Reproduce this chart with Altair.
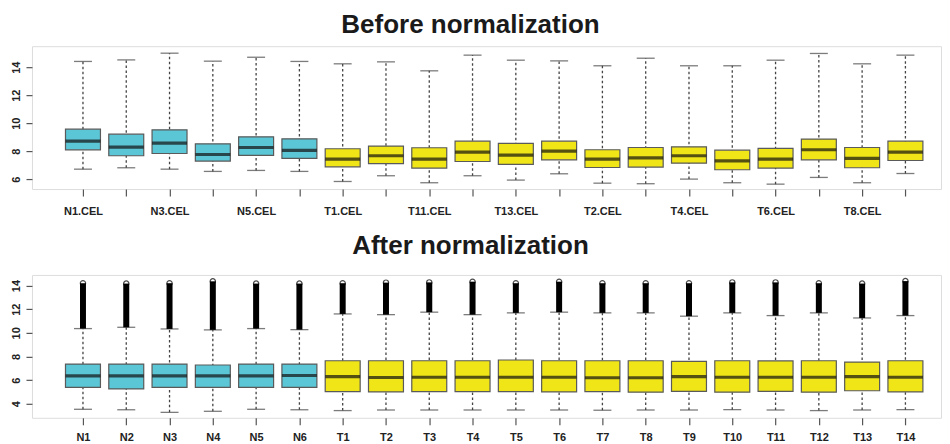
import json
import altair as alt
import pandas as pd

# ---------------- Before normalization ----------------
top_samples = ["N1.CEL", "N2.CEL", "N3.CEL", "N4.CEL", "N5.CEL", "N6.CEL",
               "T1.CEL", "T10.CEL", "T11.CEL", "T12.CEL", "T13.CEL", "T14.CEL",
               "T2.CEL", "T3.CEL", "T4.CEL", "T5.CEL", "T6.CEL", "T7.CEL", "T8.CEL", "T9.CEL"]
top_group = ["N"] * 6 + ["T"] * 14
top_lower = [6.71, 6.81, 6.71, 6.55, 6.62, 6.55, 5.83, 6.24, 5.74, 6.24,
             5.93, 6.38, 5.71, 5.67, 6.00, 5.74, 5.64, 6.12, 5.74, 6.40]
top_q1 = [8.09, 7.67, 7.83, 7.29, 7.69, 7.48, 6.88, 7.10, 6.79, 7.26,
          7.05, 7.38, 6.83, 6.86, 7.14, 6.67, 6.79, 7.38, 6.81, 7.33]
top_median = [8.71, 8.29, 8.57, 7.76, 8.26, 8.05, 7.43, 7.67, 7.43, 7.93,
              7.71, 8.00, 7.43, 7.52, 7.67, 7.31, 7.43, 8.10, 7.48, 7.93]
top_q3 = [9.57, 9.21, 9.52, 8.52, 9.02, 8.88, 8.17, 8.36, 8.24, 8.71,
          8.55, 8.71, 8.10, 8.26, 8.31, 8.07, 8.19, 8.86, 8.26, 8.71]
top_upper = [14.41, 14.52, 15.00, 14.43, 14.71, 14.41, 14.24, 14.38, 13.74, 14.86,
             14.50, 14.45, 14.10, 14.64, 14.10, 14.10, 14.50, 14.98, 14.24, 14.86]
top_labels = ["N1.CEL", "N3.CEL", "N5.CEL", "T1.CEL", "T11.CEL",
              "T13.CEL", "T2.CEL", "T4.CEL", "T6.CEL", "T8.CEL"]
top_yticks = [6, 8, 10, 12, 14]

# ---------------- After normalization ----------------
bot_samples = ["N1", "N2", "N3", "N4", "N5", "N6",
               "T1", "T2", "T3", "T4", "T5", "T6", "T7", "T8", "T9", "T10",
               "T11", "T12", "T13", "T14"]
bot_group = ["N"] * 6 + ["T"] * 14
bot_lower = [3.53, 3.49, 3.27, 3.36, 3.53, 3.49, 3.42, 3.47, 3.47, 3.47,
             3.47, 3.47, 3.45, 3.47, 3.47, 3.50, 3.47, 3.42, 3.47, 3.50]
bot_q1 = [5.39, 5.25, 5.39, 5.39, 5.39, 5.39, 5.02, 5.00, 5.02, 5.02,
          5.02, 5.00, 5.02, 4.98, 5.05, 4.98, 5.05, 4.98, 5.10, 5.00]
bot_median = [6.35, 6.35, 6.35, 6.35, 6.35, 6.39, 6.29, 6.22, 6.24, 6.24,
              6.24, 6.24, 6.20, 6.20, 6.29, 6.24, 6.24, 6.24, 6.29, 6.24]
bot_q3 = [7.36, 7.36, 7.36, 7.28, 7.36, 7.36, 7.64, 7.64, 7.64, 7.64,
          7.70, 7.64, 7.64, 7.64, 7.59, 7.64, 7.62, 7.64, 7.53, 7.64]
bot_upper = [10.36, 10.47, 10.33, 10.25, 10.36, 10.27, 11.60, 11.54, 11.75, 11.54,
             11.69, 11.75, 11.69, 11.69, 11.41, 11.69, 11.46, 11.69, 11.26, 11.46]
bot_outmax = [14.20, 14.17, 14.20, 14.36, 14.17, 14.17, 14.20, 14.25, 14.27, 14.33,
              14.20, 14.33, 14.20, 14.20, 14.20, 14.27, 14.27, 14.20, 14.17, 14.38]
bot_yticks = [4, 6, 8, 10, 12, 14]

COLORS = {"N": "#5BC6D6", "T": "#F0E516"}
PLOT_W = 910
PLOT_H = 143
FONT = "Liberation Sans"


def panel(samples, groups, lower, q1, med, q3, upper, ydomain, yticks,
          xlabels, title, title_offset, xlabel_pad, outmax=None):
    df = pd.DataFrame({"sample": samples, "group": groups, "lower": lower,
                       "q1": q1, "median": med, "q3": q3, "upper": upper})
    if outmax is not None:
        df["outmax"] = outmax

    xscale = alt.Scale(type="point", domain=samples, padding=1.107, align=0.589)
    yscale = alt.Scale(domain=ydomain, nice=False, zero=False)
    label_expr = "indexof(%s, datum.value) >= 0 ? datum.value : ''" % json.dumps(xlabels)
    xaxis = alt.Axis(title=None, labelExpr=label_expr, labelAngle=0, tickSize=7,
                     tickColor="#555", tickWidth=1.2, domain=False, grid=False,
                     labelFont=FONT, labelFontSize=11, labelFontWeight="bold",
                     labelColor="#222", labelPadding=xlabel_pad, labelOverlap=False)
    yaxis = alt.Axis(title=None, values=yticks, labelAngle=270, labelAlign="center",
                     labelBaseline="bottom", tickSize=6, tickColor="#555", tickWidth=1.2,
                     domain=False, grid=False, labelFont=FONT, labelFontSize=11,
                     labelFontWeight="bold", labelColor="#222", labelPadding=4,
                     labelOverlap=False, labelFlush=False)

    base = alt.Chart(df).encode(x=alt.X("sample:N", scale=xscale, axis=xaxis, sort=samples))

    whisker = base.mark_rule(color="#444", strokeWidth=1.3, strokeDash=[2.5, 2.5]).encode(
        y=alt.Y("lower:Q", scale=yscale, axis=yaxis), y2="upper:Q")
    cap_lo = base.mark_tick(color="#444", size=18, thickness=1.3, orient="horizontal").encode(
        y=alt.Y("lower:Q", scale=yscale, axis=yaxis))
    cap_hi = base.mark_tick(color="#444", size=18, thickness=1.3, orient="horizontal").encode(
        y=alt.Y("upper:Q", scale=yscale, axis=yaxis))
    box = base.mark_bar(size=35, stroke="#5a5a5a", strokeWidth=1.2).encode(
        y=alt.Y("q1:Q", scale=yscale, axis=yaxis), y2="q3:Q",
        color=alt.Color("group:N", scale=alt.Scale(domain=list(COLORS.keys()),
                                                     range=list(COLORS.values())),
                        legend=None))
    median = base.mark_tick(color="#111", size=35, thickness=3.2, orient="horizontal").encode(
        y=alt.Y("median:Q", scale=yscale, axis=yaxis))

    layers = [whisker, cap_lo, cap_hi]
    if outmax is not None:
        col = base.mark_rule(color="#000", strokeWidth=6).encode(
            y=alt.Y("upper:Q", scale=yscale, axis=yaxis), y2="outmax:Q")
        circ = base.mark_point(shape="circle", filled=False, color="#000", size=28,
                               strokeWidth=1.2).encode(
            y=alt.Y("outmax:Q", scale=yscale, axis=yaxis))
        layers += [col, circ]
    layers += [box, median]

    return alt.layer(*layers).properties(
        width=PLOT_W, height=PLOT_H,
        title=alt.TitleParams(title, font=FONT, fontSize=26, fontWeight="bold",
                              color="#1a1a1a", anchor="middle", dx=-16,
                              offset=title_offset),
    )


top = panel(top_samples, top_group, top_lower, top_q1, top_median, top_q3, top_upper,
            [5.29, 15.5], top_yticks, top_labels, "Before normalization", 8, 9)
bot = panel(bot_samples, bot_group, bot_lower, bot_q1, bot_median, bot_q3, bot_upper,
            [2.81, 14.9], bot_yticks, bot_samples, "After normalization", 16, 7,
            outmax=bot_outmax)

chart = alt.vconcat(top, bot, spacing=86, bounds="flush").properties(
    padding={"left": 2, "top": 3, "right": 0, "bottom": 0}
).configure_view(
    stroke="#8a8a8a", strokeWidth=2
).configure_axis(
    labelOverlap=False, labelFlush=False
).configure(background="white")

chart.save("out.html", embed_options={"renderer": "svg", "actions": False})
